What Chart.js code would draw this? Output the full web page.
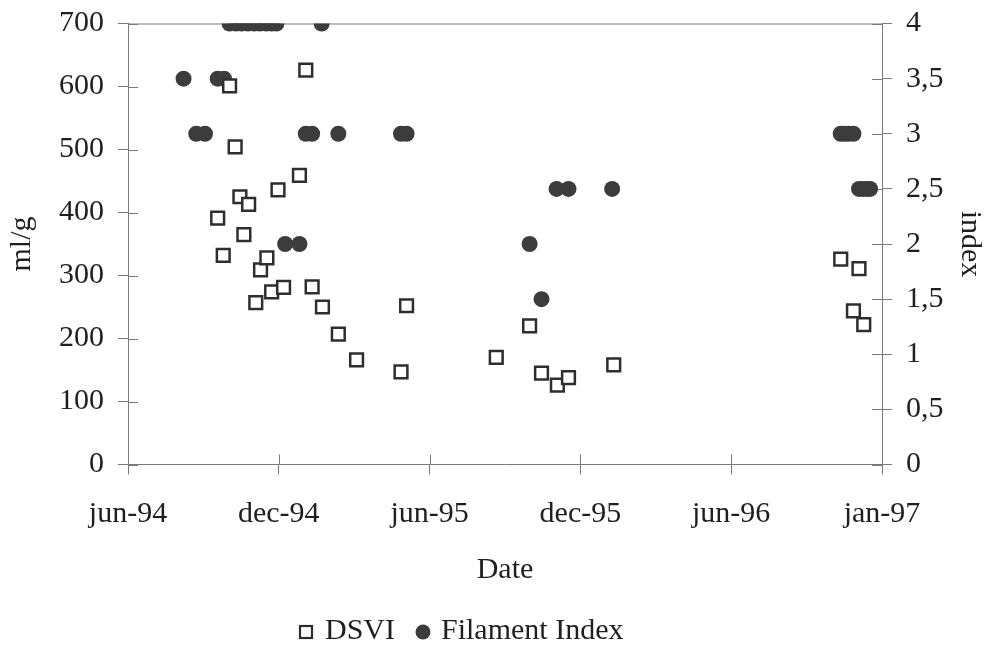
<!DOCTYPE html>
<html>
<head>
<meta charset="utf-8">
<script src="https://cdn.jsdelivr.net/npm/chart.js@4.4.1/dist/chart.umd.min.js"></script>
<style>
  html, body { margin: 0; padding: 0; background: #ffffff; }
  #wrap { width: 991px; height: 645px; }
</style>
</head>
<body>
<div id="wrap"><canvas id="c" width="991" height="645"></canvas></div>
<script>
// Date axis: ticks every 190 days starting 1 June 1994
const xTickLabels = ['jun-94', 'dec-94', 'jun-95', 'dec-95', 'jun-96', 'jan-97'];
const tickStepDays = 190;

// DSVI (ml/g), sampling day counted from 1 June 1994
const dsviDay   = [113, 120, 128, 135, 141, 146, 152, 161, 167, 175, 181, 189, 196, 216, 224, 232, 245, 265, 288, 344, 351, 464, 506, 521, 541, 555, 612, 898, 914, 921, 927];
const dsviValue = [391, 332, 601, 504, 425, 365, 413, 257, 309, 328, 274, 436, 281, 459, 626, 282, 250, 207, 166, 147, 252, 170, 220, 145, 126, 138, 158, 326, 244, 311, 222];

// Filament index (0-4), sampling day counted from 1 June 1994
const filamentDay   = [70, 86, 97, 113, 121, 128, 136, 143, 151, 159, 166, 174, 181, 187, 198, 216, 224, 232, 244, 265, 344, 351, 506, 521, 540, 555, 610, 898, 903, 908, 914, 921, 926, 931, 935];
const filamentIndex = [3.5, 3, 3, 3.5, 3.5, 4, 4, 4, 4, 4, 4, 4, 4, 4, 2, 2, 3, 3, 4, 3, 3, 3, 2, 1.5, 2.5, 2.5, 2.5, 3, 3, 3, 3, 2.5, 2.5, 2.5, 2.5];

const seriesNames = ['DSVI', 'Filament Index'];

const FONT = "'Liberation Serif', 'Times New Roman', serif";
const TEXT = '#1f1f1f';
const AXIS = '#7a7a7a';
const SQUARE_EDGE = '#2e2e2e';
const DOT_FILL = '#3c3c3c';

const toPoints = (xs, ys) => xs.map((d, i) => ({ x: d, y: ys[i] }));

// Axis lines on all four sides plus tick marks reaching into the plot
const frameTicks = {
  id: 'frameTicks',
  beforeDatasetsDraw(chart) {
    const { ctx, chartArea: a, scales } = chart;
    ctx.save();
    ctx.strokeStyle = AXIS;
    ctx.lineWidth = 1;
    ctx.beginPath();
    ctx.moveTo(a.left, a.top + 0.5);
    ctx.lineTo(a.right, a.top + 0.5);
    scales.y.ticks.forEach(t => {
      const p = Math.round(scales.y.getPixelForValue(t.value)) + 0.5;
      ctx.moveTo(a.left, p); ctx.lineTo(a.left + 10, p);
    });
    scales.y1.ticks.forEach(t => {
      const p = Math.round(scales.y1.getPixelForValue(t.value)) + 0.5;
      ctx.moveTo(a.right - 10, p); ctx.lineTo(a.right, p);
    });
    scales.x.ticks.forEach(t => {
      const p = Math.round(scales.x.getPixelForValue(t.value)) + 0.5;
      ctx.moveTo(p, a.bottom); ctx.lineTo(p, a.bottom - 10);
    });
    ctx.stroke();
    ctx.restore();
  }
};

// Legend row under the axis title
const bottomLegend = {
  id: 'bottomLegend',
  afterDraw(chart) {
    const { ctx } = chart;
    const ds = chart.data.datasets;
    const y = 632;
    ctx.save();
    ctx.font = '30px ' + FONT;
    ctx.textBaseline = 'alphabetic';
    let x = 299;
    // square marker
    ctx.fillStyle = '#ffffff';
    ctx.strokeStyle = ds[0].borderColor;
    ctx.lineWidth = 2.2;
    ctx.fillRect(x + 1, y - 6, 12, 12);
    ctx.strokeRect(x + 1, y - 6, 12, 12);
    x += 26;
    ctx.fillStyle = TEXT;
    ctx.fillText(ds[0].label, x, 639);
    x += ctx.measureText(ds[0].label).width + 21;
    // round marker
    ctx.fillStyle = ds[1].backgroundColor;
    ctx.beginPath();
    ctx.arc(x + 7, y, 7.5, 0, Math.PI * 2);
    ctx.fill();
    x += 25;
    ctx.fillStyle = TEXT;
    ctx.fillText(ds[1].label, x, 639);
    ctx.restore();
  }
};

// Vertical scales: fixed width, no extra label overhang at the ends
const fixVertical = w => s => { s.width = w; s.paddingTop = 0; s.paddingBottom = 0; };

new Chart(document.getElementById('c'), {
  type: 'scatter',
  data: {
    datasets: [
      {
        label: seriesNames[0],
        data: toPoints(dsviDay, dsviValue),
        yAxisID: 'y',
        pointStyle: 'rect',
        pointRadius: 9,
        pointHoverRadius: 9,
        borderWidth: 2.5,
        borderColor: SQUARE_EDGE,
        backgroundColor: '#ffffff'
      },
      {
        label: seriesNames[1],
        data: toPoints(filamentDay, filamentIndex),
        yAxisID: 'y1',
        pointStyle: 'circle',
        pointRadius: 8,
        pointHoverRadius: 8,
        borderWidth: 0,
        borderColor: DOT_FILL,
        backgroundColor: DOT_FILL
      }
    ]
  },
  options: {
    responsive: false,
    animation: false,
    layout: { padding: { top: 23.5, left: 0, right: 0, bottom: 50 } },
    plugins: {
      legend: { display: false },
      tooltip: { enabled: false }
    },
    scales: {
      x: {
        type: 'linear',
        min: 0,
        max: tickStepDays * (xTickLabels.length - 1),
        afterFit(s) { s.height = 130.5; },
        border: { display: true, color: AXIS, width: 1 },
        grid: { drawOnChartArea: false, drawTicks: true, tickLength: 10, color: AXIS, tickColor: AXIS },
        ticks: {
          stepSize: tickStepDays,
          padding: 22,
          maxRotation: 0,
          autoSkip: false,
          color: TEXT,
          font: { family: FONT, size: 30 },
          callback: v => xTickLabels[Math.round(v / tickStepDays)]
        },
        title: { display: true, text: 'Date', color: TEXT, font: { family: FONT, size: 30 }, padding: { top: 4, bottom: 7 } }
      },
      y: {
        position: 'left',
        min: 0,
        max: 700,
        afterFit: fixVertical(128),
        border: { display: true, color: AXIS, width: 1 },
        grid: { drawOnChartArea: false, drawTicks: true, tickLength: 10, color: AXIS, tickColor: AXIS },
        ticks: { stepSize: 100, padding: 14, color: TEXT, font: { family: FONT, size: 30 } },
        title: { display: true, text: 'ml/g', color: TEXT, font: { family: FONT, size: 30 }, padding: { top: 4, bottom: 0 } }
      },
      y1: {
        position: 'right',
        min: 0,
        max: 4,
        afterFit: fixVertical(109),
        border: { display: true, color: AXIS, width: 1 },
        grid: { drawOnChartArea: false, drawTicks: true, tickLength: 10, color: AXIS, tickColor: AXIS },
        ticks: {
          stepSize: 0.5,
          padding: 14,
          color: TEXT,
          font: { family: FONT, size: 30 },
          callback: v => String(v).replace('.', ',')
        },
        title: { display: true, text: 'index', color: TEXT, font: { family: FONT, size: 30 }, padding: { top: 3, bottom: 0 } }
      }
    }
  },
  plugins: [frameTicks, bottomLegend]
});
</script>
</body>
</html>
